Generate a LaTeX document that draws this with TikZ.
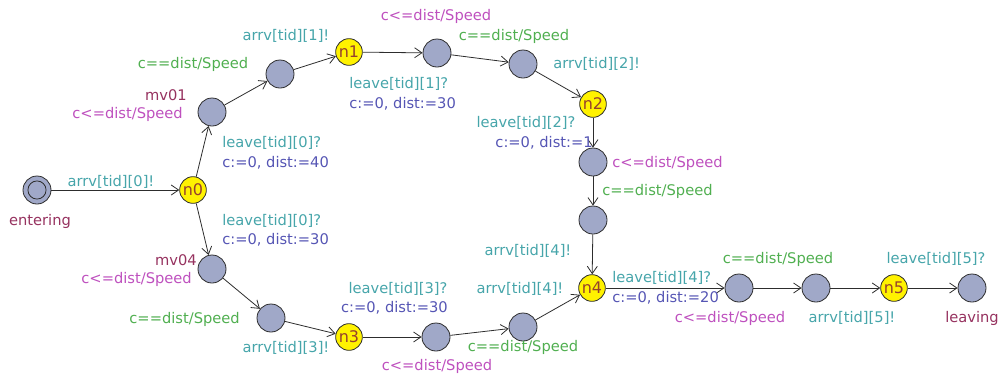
\documentclass[tikz,border=0pt]{standalone}
\usepackage{fontspec}
\setmainfont{DejaVu Sans}
\usetikzlibrary{arrows.meta}

\definecolor{lnamecol}{RGB}{150,50,95}
\definecolor{invcol}{RGB}{190,80,190}
\definecolor{grdcol}{RGB}{80,175,80}
\definecolor{syncol}{RGB}{70,165,170}
\definecolor{updcol}{RGB}{85,85,180}
\definecolor{locfill}{RGB}{160,168,200}
\definecolor{edgecol}{RGB}{45,45,45}
\definecolor{junctext}{RGB}{150,65,45}

\tikzset{
  loc/.style={circle, draw=edgecol, fill=locfill, line width=0.6pt, minimum size=21pt, inner sep=0pt},
  junc/.style={circle, draw=edgecol, fill=yellow, line width=0.6pt, minimum size=20pt, inner sep=0pt,
               text=junctext, font=\fontsize{12}{14}\selectfont},
  edge/.style={draw=edgecol, line width=0.6pt, -{Straight Barb[length=5.5pt, width=7.5pt]}},
  lbl/.style={inner sep=0pt, text height=10pt, text depth=1.5pt},
  lname/.style={lbl, text=lnamecol},
  inv/.style={lbl, text=invcol},
  grd/.style={lbl, text=grdcol},
  syn/.style={lbl, text=syncol},
  upd/.style={lbl, text=updcol}
}

\begin{document}
\begin{tikzpicture}[x=0.75pt, y=-0.75pt, font=\fontsize{11}{13}\selectfont]
  \useasboundingbox (0,0) rectangle (1001,376);

  % Initial location
  \node[loc] (entering) at (37,190) {};
  \draw[edgecol, line width=0.6pt] (entering.center) circle[radius=6.8pt];

  % Plain locations
  \foreach \n/\x/\y in {mv01/212/112, a1/280/74, b1/437/53, b2/523/64,
                        c1/593/162, c2/593/220, mv04/212/269, d1/271/318,
                        e1/436/337, e2/523/327, f1/739/288, f2/816/288,
                        leaving/972/288} {
    \node[loc] (\n) at (\x,\y) {};
  }

  % Yellow locations
  \foreach \n/\x/\y in {n0/193/190, n1/349/52, n2/593/104, n3/349/337,
                        n4/592/288, n5/894/288} {
    \node[junc] (\n) at (\x,\y) {\n};
  }

  % Edges
  \foreach \a/\b in {entering/n0, n0/mv01, mv01/a1, a1/n1, n1/b1, b1/b2,
                     b2/n2, n2/c1, c1/c2, c2/n4, n0/mv04, mv04/d1, d1/n3,
                     n3/e1, e1/e2, e2/n4, n4/f1, f1/f2, f2/n5, n5/leaving} {
    \draw[edge] (\a) -- (\b);
  }

  % Location names
  \node[lname] (nmentering) at (40,220) {entering};
  \node[lname, anchor=east] (nmmv01) at (187,95) {mv01};
  \node[lname, anchor=east] (nmmv04) at (197,260) {mv04};
  \node[lname] (nmleaving) at (972,317) {leaving};

  % Invariants
  \node[inv, anchor=east] (ivmv01) at (183,113) {c<=dist/Speed};
  \node[inv, anchor=east] (ivmv04) at (192,278) {c<=dist/Speed};
  \node[inv] (ivb1) at (436,15) {c<=dist/Speed};
  \node[inv, anchor=west] (ivc1) at (612,162) {c<=dist/Speed};
  \node[inv] (ive1) at (437,365) {c<=dist/Speed};
  \node[inv] (ivf1) at (730,317) {c<=dist/Speed};

  % Guards
  \node[grd] (gda1) at (193,63) {c==dist/Speed};
  \node[grd] (gdb2) at (514,35) {c==dist/Speed};
  \node[grd, anchor=west] (gdc2) at (602,190) {c==dist/Speed};
  \node[grd, anchor=east] (gdd1) at (240,318) {c==dist/Speed};
  \node[grd] (gde2) at (523,346) {c==dist/Speed};
  \node[grd] (gdf2) at (778,258) {c==dist/Speed};

  % Synchronisations
  \node[syn] (sy0) at (111,181) {arrv[tid][0]!};
  \node[syn, anchor=west] (sy0a) at (222,142) {leave[tid][0]?};
  \node[syn, anchor=west] (sy0b) at (222,220) {leave[tid][0]?};
  \node[syn] (sy1) at (286,35) {arrv[tid][1]!};
  \node[syn, anchor=west] (sy1l) at (349,83) {leave[tid][1]?};
  \node[syn, anchor=west] (sy2) at (553,63) {arrv[tid][2]!};
  \node[syn] (sy2l) at (526,122) {leave[tid][2]?};
  \node[syn] (sy3) at (286,347) {arrv[tid][3]!};
  \node[syn] (sy3l) at (398,288) {leave[tid][3]?};
  \node[syn] (sy4a) at (528,250) {arrv[tid][4]!};
  \node[syn] (sy4b) at (520,288) {arrv[tid][4]!};
  \node[syn, anchor=west] (sy4l) at (612,277) {leave[tid][4]?};
  \node[syn] (sy5) at (852,317) {arrv[tid][5]!};
  \node[syn] (sy5l) at (936,258) {leave[tid][5]?};

  % Updates
  \node[upd, anchor=west] (up0a) at (222,162) {c:=0, dist:=40};
  \node[upd, anchor=west] (up0b) at (222,239) {c:=0, dist:=30};
  \node[upd, anchor=west] (up1) at (349,103) {c:=0, dist:=30};
  \node[upd, anchor=east] (up2) at (593,142) {c:=0, dist:=1};
  \node[upd, anchor=east] (up3) at (448,307) {c:=0, dist:=30};
  \node[upd, anchor=west] (up4) at (612,297) {c:=0, dist:=20};
\end{tikzpicture}
\end{document}
